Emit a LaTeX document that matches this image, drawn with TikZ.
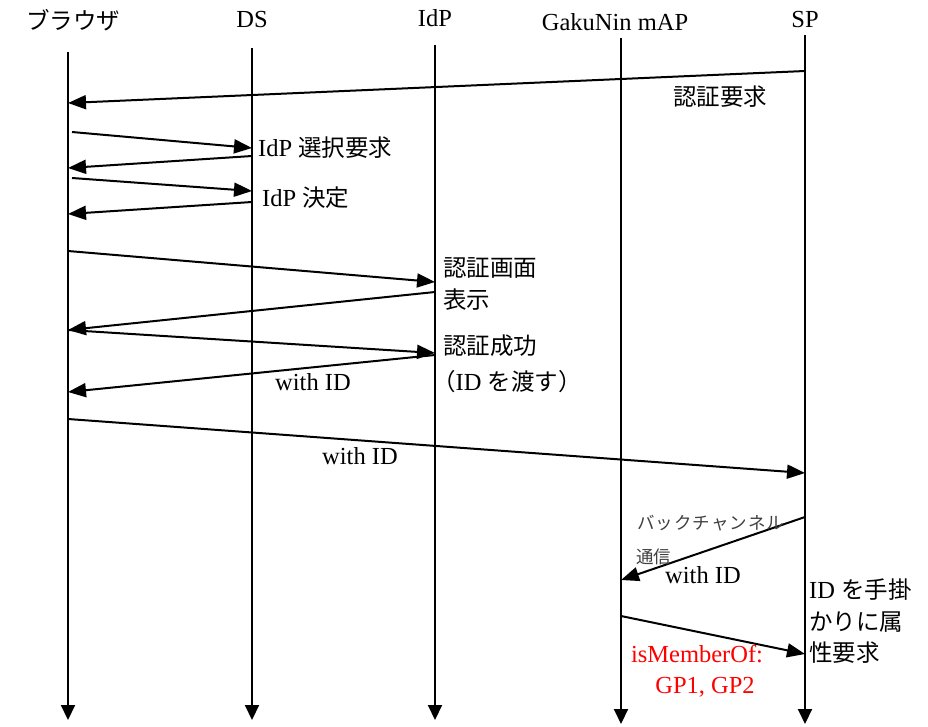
\documentclass[tikz,border=0pt]{standalone}
\usepackage{fontspec}
\setmainfont{Liberation Serif}
\newfontfamily\jp{Noto Sans CJK JP}
\usetikzlibrary{arrows.meta}
\newcommand{\jpt}{\jp\fontsize{23.5}{27}\selectfont}
\begin{document}
\begin{tikzpicture}[x=1pt,y=-1pt,
  life/.style={line width=2pt,-{Triangle[length=15pt,width=14pt]}},
  msg/.style={line width=2pt,-{Triangle[length=18pt,width=14pt]}},
  lbl/.style={font=\fontsize{24.5}{28}\selectfont, inner sep=0pt},
  jlbl/.style={font=\jpt, inner sep=0pt},
  small/.style={font=\fontsize{17.5}{20}\selectfont\jp, inner sep=0pt, text=black!75}]
\useasboundingbox[fill=white] (0,0) rectangle (928,726);
% headers
\node[jlbl] (hB) at (73,20) {ブラウザ};
\node[lbl] (hD) at (252,20) {DS};
\node[lbl] (hI) at (435,18) {IdP};
\node[lbl] (hM) at (615,22) {GakuNin mAP};
\node[lbl] (hS) at (805,20) {SP};
% lifelines
\coordinate (B0) at (68,52);  \coordinate (B1) at (68,720);
\coordinate (D0) at (252,48); \coordinate (D1) at (252,720);
\coordinate (I0) at (435,45); \coordinate (I1) at (435,720);
\coordinate (M0) at (621,38); \coordinate (M1) at (621,724);
\coordinate (S0) at (805,35); \coordinate (S1) at (805,724);
\draw[life] (B0) -- (B1);
\draw[life] (D0) -- (D1);
\draw[life] (I0) -- (I1);
\draw[life] (M0) -- (M1);
\draw[life] (S0) -- (S1);
% message endpoints
\coordinate (m1a) at (805,71);  \coordinate (m1b) at (68,103);
\coordinate (m2a) at (72,132);  \coordinate (m2b) at (252,148);
\coordinate (m3a) at (252,156); \coordinate (m3b) at (68,168);
\coordinate (m4a) at (72,178);  \coordinate (m4b) at (252,191);
\coordinate (m5a) at (252,202); \coordinate (m5b) at (68,214);
\coordinate (m6a) at (68,251);  \coordinate (m6b) at (435,282);
\coordinate (m7a) at (435,292); \coordinate (m7b) at (68,330);
\coordinate (m8a) at (68,330);  \coordinate (m8b) at (435,353);
\coordinate (m9a) at (435,355); \coordinate (m9b) at (68,392);
\coordinate (m10a) at (68,419); \coordinate (m10b) at (805,473);
\coordinate (m11a) at (805,517); \coordinate (m11b) at (621,580);
\coordinate (m12a) at (621,616); \coordinate (m12b) at (805,654);
\draw[msg] (m1a) -- (m1b);
\draw[msg] (m2a) -- (m2b);
\draw[msg] (m3a) -- (m3b);
\draw[msg] (m4a) -- (m4b);
\draw[msg] (m5a) -- (m5b);
\draw[msg] (m6a) -- (m6b);
\draw[msg] (m7a) -- (m7b);
\draw[msg] (m8a) -- (m8b);
\draw[msg] (m9a) -- (m9b);
\draw[msg] (m10a) -- (m10b);
\draw[msg] (m11a) -- (m11b);
\draw[msg] (m12a) -- (m12b);
% labels
\node[jlbl] (l1) at (720,97) {認証要求};
\node[lbl,anchor=west] (l2) at (258,148) {IdP {\jpt 選択要求}};
\node[lbl,anchor=west] (l4) at (262,198) {IdP {\jpt 決定}};
\node[jlbl,anchor=west] (l6a) at (443,268) {認証画面};
\node[jlbl,anchor=west] (l6b) at (443,300) {表示};
\node[jlbl,anchor=west] (l8) at (443,346) {認証成功};
\node[lbl] (l9) at (313,382) {with ID};
\node[lbl,anchor=west] (l9b) at (432,382) {{\jpt （}ID {\jpt を渡す）}};
\node[lbl] (l10) at (360,456) {with ID};
\node[small,anchor=west] (l11a) at (637,523) {バ\kern1ptッ\kern1ptク\kern1ptチ\kern1ptャ\kern1ptン\kern1ptネ\kern1ptル};
\node[small,anchor=west] (l11b) at (636,557) {通信};
\node[lbl,anchor=west] (l11c) at (665,575) {with ID};
\node[lbl,text=red] (l12a) at (697,654) {isMemberOf:};
\node[lbl,text=red] (l12b) at (705,687) {GP1, GP2};
\node[lbl,anchor=west] (r1) at (809,590) {ID {\jpt を手掛}};
\node[jlbl,anchor=west] (r2) at (809,622) {かりに属};
\node[jlbl,anchor=west] (r3) at (809,653) {性要求};
\end{tikzpicture}
\end{document}
